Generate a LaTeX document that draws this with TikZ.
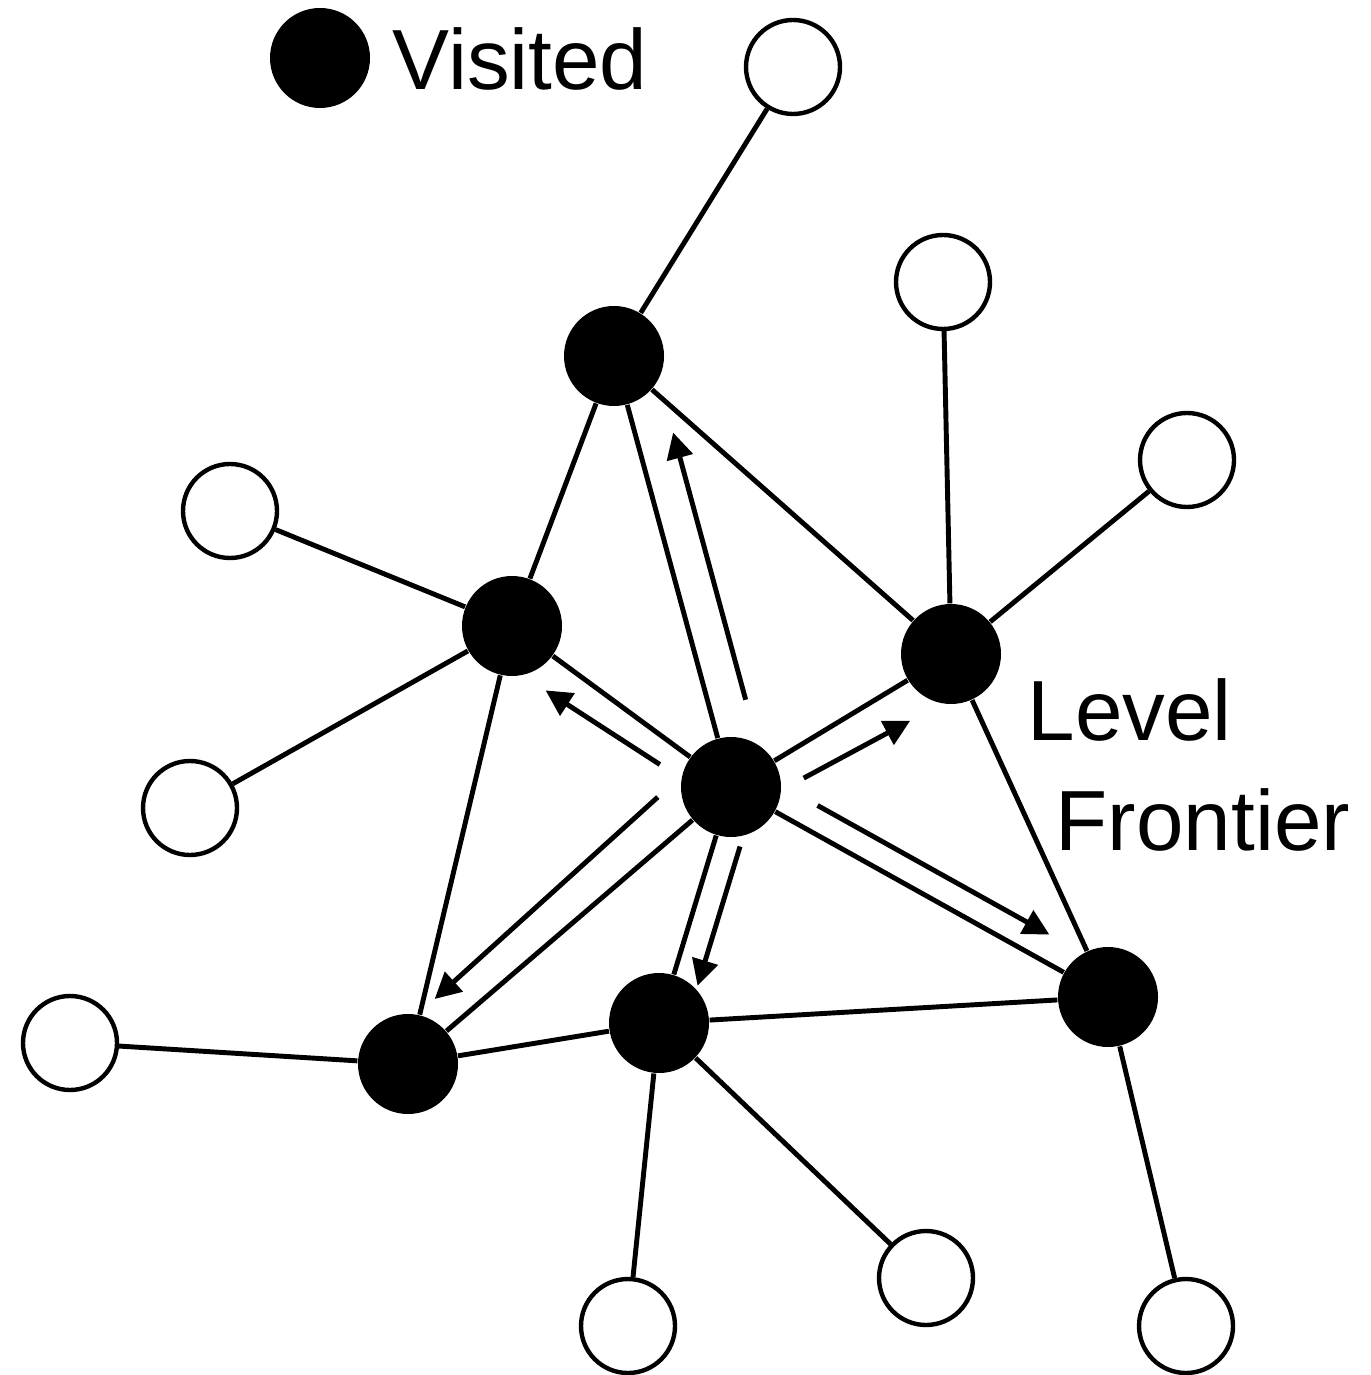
\documentclass[tikz,border=0pt]{standalone}
\usepackage{fontspec}
\setmainfont{Liberation Sans}
\usetikzlibrary{arrows.meta,calc}

\begin{document}
\begin{tikzpicture}[
        visited/.style={circle, fill=black, minimum size=1cm, inner sep=0pt},
        fresh/.style={circle, draw, line width=1.25pt, minimum size=0.94cm, inner sep=0pt},
        link/.style={line width=1.4pt},
        flow/.style={line width=1.4pt, -{Triangle[length=0.26cm, width=0.26cm]}},
        txt/.style={font=\fontsize{24.3}{29}\selectfont, inner sep=0pt, anchor=base west}
    ]
        \useasboundingbox (0,0) rectangle (13.70,-13.75);

        % Legend
        \node[visited] (key) at (3.20,-0.58) {};
        \node[txt] (keytext) at (3.92,-0.90) {Visited};

        % Visited nodes
        \node[visited] (core) at (7.31,-7.87) {};
        \node[visited] (v1) at (6.14,-3.56) {};
        \node[visited] (v2) at (5.12,-6.26) {};
        \node[visited] (v3) at (9.51,-6.54) {};
        \node[visited] (v4) at (4.08,-10.64) {};
        \node[visited] (v5) at (6.59,-10.23) {};
        \node[visited] (v6) at (11.08,-9.97) {};

        % Unvisited nodes
        \foreach \name/\x/\y in {
            l1/7.93/-0.67,
            l2/9.43/-2.82,
            l3/11.87/-4.60,
            l4/2.30/-5.11,
            l5/1.90/-8.08,
            l6/0.70/-10.43,
            l7/6.28/-13.26,
            l8/9.26/-12.78,
            l9/11.86/-13.26} {
            \node[fresh] (\name) at (\x,\y) {};
        }

        % Edges
        \foreach \a/\b in {
            l1/v1, v1/v2, v1/core, v1/v3, l2/v3, l3/v3, l4/v2, l5/v2,
            v2/core, v2/v4, v3/core, v3/v6, core/v4, core/v5, core/v6,
            l6/v4, v4/v5, v5/v6, v5/l7, v5/l8, v6/l9} {
            \draw[link] (\a) -- (\b);
        }

        % Search direction from the core
        \foreach \t/\s/\e/\p/\q/\r in {
            v1/0.18/0.80/0.37cm/0.37cm/270,
            v2/0.26/0.76/0.24cm/0.32cm/90,
            v3/0.26/0.73/0.30cm/0.36cm/270,
            v4/0.146/0.853/0.40cm/0.32cm/270,
            v5/0.22/0.81/0.26cm/0.26cm/90,
            v6/0.196/0.811/0.26cm/0.26cm/90} {
            \draw[flow] ($(core)!\s!(\t)!\p!\r:(\t)$) -- ($(core)!\e!(\t)!\q!\r:(\t)$);
        }

        \node[txt] (lvl) at (10.27,-7.40) {Level};
        \node[txt] (frt) at (10.55,-8.50) {Frontier};
    \end{tikzpicture}
\end{document}
